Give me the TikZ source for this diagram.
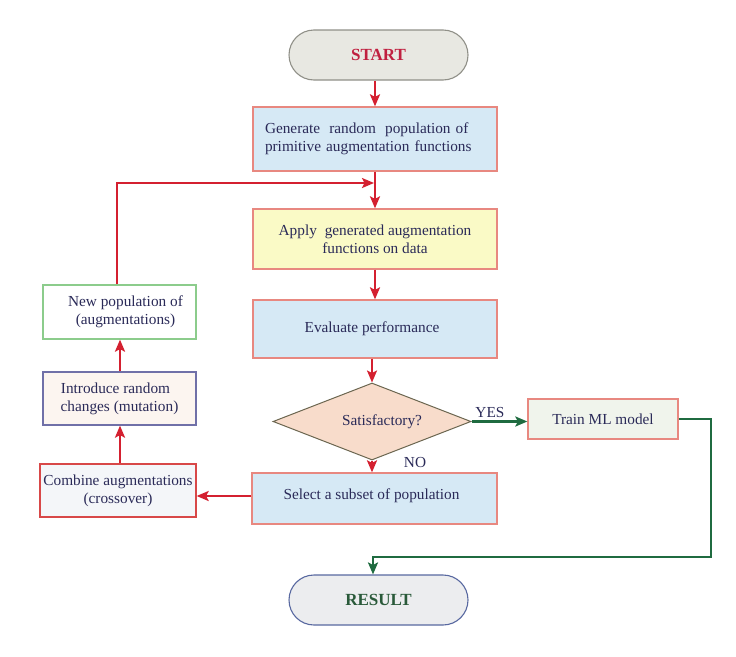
\documentclass[tikz,border=0pt]{standalone}
\usepackage{fontspec}
\setmainfont{Liberation Serif}
\usetikzlibrary{arrows.meta,shapes.geometric}
\definecolor{txtc}{HTML}{2A2A58}
\definecolor{redl}{HTML}{D42030}
\definecolor{greenl}{HTML}{1F6B40}
\definecolor{bluefill}{HTML}{D6E9F5}
\definecolor{salmon}{HTML}{E88880}
\definecolor{yellowfill}{HTML}{FAFAC6}
\definecolor{peachfill}{HTML}{F8DCCB}
\definecolor{diadraw}{HTML}{6B6650}
\definecolor{trainfill}{HTML}{F0F4EC}
\definecolor{startfill}{HTML}{E8E8E2}
\definecolor{startdraw}{HTML}{909088}
\definecolor{startc}{HTML}{C02040}
\definecolor{resfill}{HTML}{ECEDEF}
\definecolor{resdraw}{HTML}{5868A0}
\definecolor{resc}{HTML}{2A5A3A}
\definecolor{newdraw}{HTML}{8CCC8C}
\definecolor{mutfill}{HTML}{FCF5F0}
\definecolor{mutdraw}{HTML}{7070A8}
\definecolor{combfill}{HTML}{F4F6F9}
\definecolor{combdraw}{HTML}{D84848}
\begin{document}
\begin{tikzpicture}[x=1pt,y=-1pt,
  every node/.style={font=\fontsize{15.3}{18}\selectfont, text=txtc},
  box/.style={draw, line width=1.3pt, rectangle, inner sep=0pt, align=center},
  term/.style={draw, line width=1.1pt, rectangle, rounded corners=25pt, inner sep=0pt,
    minimum width=179, minimum height=50, font=\fontsize{17}{18}\selectfont\bfseries},
  redarrow/.style={draw=redl, line width=2.2pt, -{Stealth[length=12pt,width=10pt,inset=2.5pt]}},
  greenarrow/.style={draw=greenl, line width=2.2pt, -{Stealth[length=12pt,width=10pt,inset=2.5pt]}},
  lbl/.style={inner sep=1pt}
]
\useasboundingbox (0,0) rectangle (736,656);

\node[term, fill=startfill, draw=startdraw, text=startc] (start) at (378.5,55) {START};
\node[box, fill=bluefill, draw=salmon, minimum height=64, text width=220, inner xsep=12pt, align=left] (gen) at (375,139)
  {Generate\hspace{4pt} random\hspace{4pt} population of\\primitive augmentation functions};
\node[box, fill=yellowfill, draw=salmon, minimum width=244, minimum height=60] (apply) at (375,239)
  {Apply\hspace{4pt} generated augmentation\\functions on data\hspace{10pt}};
\node[box, fill=bluefill, draw=salmon, minimum width=244, minimum height=58] (eval) at (375,329)
  {Evaluate performance\hspace{6pt}};
\node[draw=diadraw, line width=1pt, fill=peachfill, diamond, inner sep=0pt, aspect=2.57,
  minimum width=198, minimum height=77] (dia) at (372,421.5) {\hspace{20pt}Satisfactory?};
\node[box, fill=trainfill, draw=salmon, minimum width=150, minimum height=40] (train) at (603,419)
  {Train ML model};
\node[box, fill=bluefill, draw=salmon, minimum width=245, minimum height=51] (select) at (374.5,498.5)
  {Select a subset of population\hspace{6pt}\rule[-8pt]{0pt}{0pt}};
\node[box, fill=combfill, draw=combdraw, minimum width=156, minimum height=53] (comb) at (118,490.5)
  {Combine augmentations\\(crossover)};
\node[box, fill=mutfill, draw=mutdraw, minimum width=153, minimum height=53] (mut) at (119.5,398.5)
  {\hspace{-8pt}Introduce random\\changes (mutation)\hspace{6pt}};
\node[box, fill=white, draw=newdraw, minimum width=153, minimum height=54] (newp) at (119.5,312)
  {\hspace{12pt}New population of\\\hspace{12pt}(augmentations)};
\node[term, fill=resfill, draw=resdraw, text=resc] (res) at (378.5,600) {RESULT};

\coordinate (j) at (374,183);
\coordinate (a) at (0,496);
\coordinate (g1) at (711,557);
\coordinate (g2) at (373,557);

\draw[redarrow] (start.south -| gen.north) -- (gen.north);
\draw[redarrow] (gen) -- (apply);
\draw[redarrow] (newp.north -| 117,0) |- (j);
\draw[redarrow] (apply) -- (eval);
\draw[redarrow] (eval.south -| dia.north) -- (dia.north);
\draw[greenarrow] (dia.east) -- (train.west |- dia.east) node[lbl, pos=0.33, above=2pt] {YES};
\draw[greenarrow] (train.east) -| (g1) -- (g2) -- (g2 |- res.north);
\draw[redarrow] (dia.south) -- (dia.south |- select.north);
\node[lbl] (no) at (415,463) {NO};
\draw[redarrow] (select.west |- a) -- (comb.east |- a);
\draw[redarrow] (comb.north -| 120,0) -- (mut.south -| 120,0);
\draw[redarrow] (mut.north -| 120,0) -- (newp.south -| 120,0);
\end{tikzpicture}
\end{document}
